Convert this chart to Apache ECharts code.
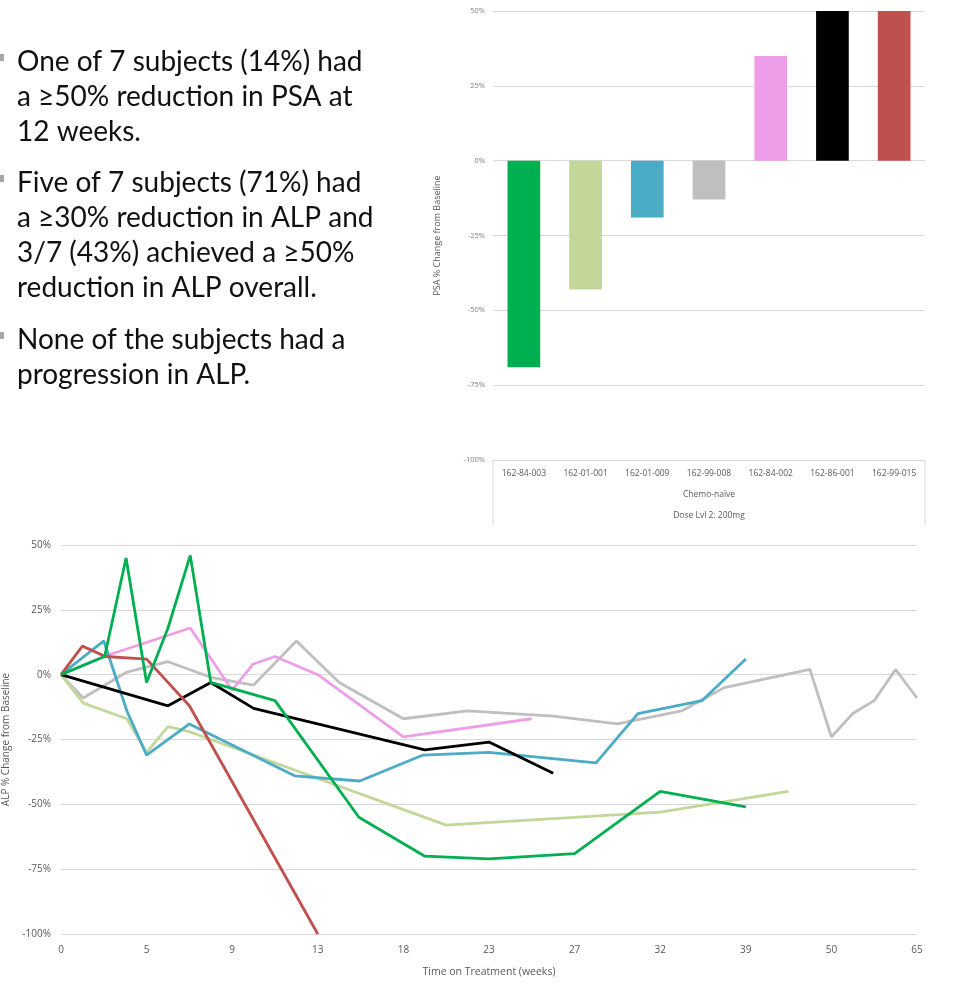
<!DOCTYPE html>
<html>
<head>
<meta charset="utf-8">
<script src="https://cdn.jsdelivr.net/npm/echarts@6/dist/echarts.min.js"></script>
<style>
html,body{margin:0;padding:0;background:#fff;}
#chart{width:964px;height:991px;}
</style>
</head>
<body>
<div id="chart"></div>
<script>
// ---------- Data ----------
const bulletTexts = [
  ['One of 7 subjects (14%) had', 'a \u226550% reduction in PSA at', '12 weeks.'],
  ['Five of 7 subjects (71%) had', 'a \u226530% reduction in ALP and', '3/7 (43%) achieved a \u226550%', 'reduction in ALP overall.'],
  ['None of the subjects had a', 'progression in ALP.']
];

const psaCategories = ['162-84-003','162-01-001','162-01-009','162-99-008','162-84-002','162-86-001','162-99-015'];
const psaValues = [-69, -43, -19, -13, 35, 50, 50];
const psaGroupLabel = 'Chemo-na\u00efve';
const psaDoseLabel = 'Dose Lvl 2: 200mg';
const subjectColors = ['#00b050','#c4d79b','#4bacc6','#bfbfbf','#ee9ee8','#000000','#c0504d'];

const weekTickLabels = ['0','5','9','13','18','23','27','32','39','50','65'];
// ALP series: [tick position on the time axis, % change]
const alp_84_003 = [[0,0],[0.51,7],[0.76,45],[1.0,-3],[1.25,18],[1.51,46],[1.75,-3],[2.5,-10],[3.48,-55],[4.25,-70],[5.0,-71],[6.0,-69],[7.0,-45],[8.0,-51]];
const alp_01_001 = [[0,0],[0.26,-11],[0.77,-17],[1.0,-30],[1.25,-20],[1.5,-22],[4.5,-58],[7.0,-53],[8.5,-45]];
const alp_01_009 = [[0,0],[0.5,13],[0.77,-14],[1.0,-31],[1.5,-19],[2.73,-39],[3.49,-41],[4.23,-31],[5.0,-30],[6.25,-34],[6.74,-15],[7.49,-10],[8.0,6]];
const alp_99_008 = [[0,0],[0.26,-9],[0.77,1],[1.25,5],[1.75,-1],[2.25,-4],[2.75,13],[3.25,-3],[4.0,-17],[4.75,-14],[5.75,-16],[6.5,-19],[7.25,-14],[7.75,-5],[8.75,2],[9.0,-24],[9.25,-15],[9.5,-10],[9.75,2],[10,-9]];
const alp_84_002 = [[0,0],[0.5,7],[1.51,18],[2.0,-6],[2.24,4],[2.5,7],[3.0,0],[4.0,-24],[5.5,-17]];
const alp_86_001 = [[0,0],[1.25,-12],[1.75,-3],[2.25,-13],[4.25,-29],[5.0,-26],[5.75,-38]];
const alp_99_015 = [[0,0],[0.25,11],[0.52,7],[1.0,6],[1.5,-12],[3.0,-100]];

// ---------- Layout ----------
const barGrid = {left: 493, right: 39, top: 11, bottom: 531, outerBoundsMode: 'none', containLabel: false};
const lineGrid = {left: 61, right: 47, top: 545, bottom: 57, outerBoundsMode: 'none', containLabel: false};
const gridGray = '#d9d9d9';
const labelGray = '#595959';

const chart = echarts.init(document.getElementById('chart'), null, {renderer: 'canvas'});

const alpSeriesDefs = [
  {name: '162-99-008', data: alp_99_008, color: subjectColors[3]},
  {name: '162-84-002', data: alp_84_002, color: subjectColors[4]},
  {name: '162-01-001', data: alp_01_001, color: subjectColors[1]},
  {name: '162-01-009', data: alp_01_009, color: subjectColors[2]},
  {name: '162-86-001', data: alp_86_001, color: subjectColors[5]},
  {name: '162-99-015', data: alp_99_015, color: subjectColors[6]},
  {name: '162-84-003', data: alp_84_003, color: subjectColors[0]}
];

// text graphics
const textGraphics = [];
const blockTops = [44, 165, 322];
const lineH = 35;
bulletTexts.forEach((lines, bi) => {
  textGraphics.push({
    type: 'rect', left: -2, top: blockTops[bi] + 10, shape: {width: 6, height: 7},
    style: {fill: '#a6a6a6'}, silent: true
  });
  textGraphics.push({
    type: 'text', left: 17, top: blockTops[bi],
    style: {text: lines.join('\n'), font: '28px Lato', fill: '#111', lineHeight: lineH}
  });
});

const boxTop = 991 - barGrid.bottom;
textGraphics.push(
  {type: 'line', shape: {x1: barGrid.left, y1: boxTop, x2: barGrid.left, y2: 525}, style: {stroke: gridGray, lineWidth: 1}},
  {type: 'line', shape: {x1: 964 - barGrid.right, y1: boxTop, x2: 964 - barGrid.right, y2: 525}, style: {stroke: gridGray, lineWidth: 1}},
  {type: 'text', x: (barGrid.left + 964 - barGrid.right) / 2, y: 495, style: {text: psaGroupLabel, font: '8.5px "Open Sans"', fill: labelGray, align: 'center', verticalAlign: 'middle'}},
  {type: 'text', x: (barGrid.left + 964 - barGrid.right) / 2, y: 516, style: {text: psaDoseLabel, font: '8.5px "Open Sans"', fill: labelGray, align: 'center', verticalAlign: 'middle'}}
);

const option = {
  animation: false,
  backgroundColor: '#fff',
  grid: [barGrid, lineGrid],
  xAxis: [
    {
      gridIndex: 0, type: 'category', data: psaCategories,
      position: 'bottom',
      axisLine: {show: true, onZero: false, lineStyle: {color: gridGray}},
      axisTick: {show: false},
      axisLabel: {color: labelGray, fontSize: 8.5, fontFamily: 'Open Sans', margin: 9, interval: 0}
    },
    {
      gridIndex: 1, type: 'value', min: 0, max: 10, interval: 1,
      axisLine: {show: false}, axisTick: {show: false}, splitLine: {show: false},
      axisLabel: {color: labelGray, fontSize: 10, fontFamily: 'Open Sans', margin: 11,
        formatter: v => weekTickLabels[Math.round(v)] || ''},
      name: 'Time on Treatment (weeks)', nameLocation: 'middle', nameGap: 33,
      nameTextStyle: {color: labelGray, fontSize: 10.5, fontFamily: 'Open Sans'}
    }
  ],
  yAxis: [
    {
      gridIndex: 0, type: 'value', min: -100, max: 50, interval: 25,
      axisLine: {show: false}, axisTick: {show: false},
      splitLine: {lineStyle: {color: gridGray, width: 1}},
      axisLabel: {color: '#7f7f7f', fontSize: 7.5, fontFamily: 'Open Sans', margin: 8, formatter: v => v + '%'},
      name: 'PSA % Change from Baseline', nameLocation: 'middle', nameGap: 51,
      nameTextStyle: {color: labelGray, fontSize: 9, fontFamily: 'Open Sans'}
    },
    {
      gridIndex: 1, type: 'value', min: -100, max: 50, interval: 25,
      axisLine: {show: false}, axisTick: {show: false},
      splitLine: {lineStyle: {color: gridGray, width: 1}},
      axisLabel: {color: labelGray, fontSize: 10, fontFamily: 'Open Sans', margin: 10, formatter: v => v + '%'},
      name: 'ALP % Change from Baseline', nameLocation: 'middle', nameGap: 49,
      nameTextStyle: {color: labelGray, fontSize: 10, fontFamily: 'Open Sans'}
    }
  ],
  series: [
    {
      type: 'bar', xAxisIndex: 0, yAxisIndex: 0, barWidth: '53%',
      data: psaValues.map((v, i) => ({value: v, itemStyle: {color: subjectColors[i]}}))
    }
  ].concat(alpSeriesDefs.map(d => ({
    type: 'line', name: d.name, xAxisIndex: 1, yAxisIndex: 1,
    data: d.data, showSymbol: false, symbol: 'none',
    lineStyle: {color: d.color, width: 2.8}, itemStyle: {color: d.color}
  }))),
  graphic: textGraphics
};
chart.setOption(option);
</script>
</body>
</html>
